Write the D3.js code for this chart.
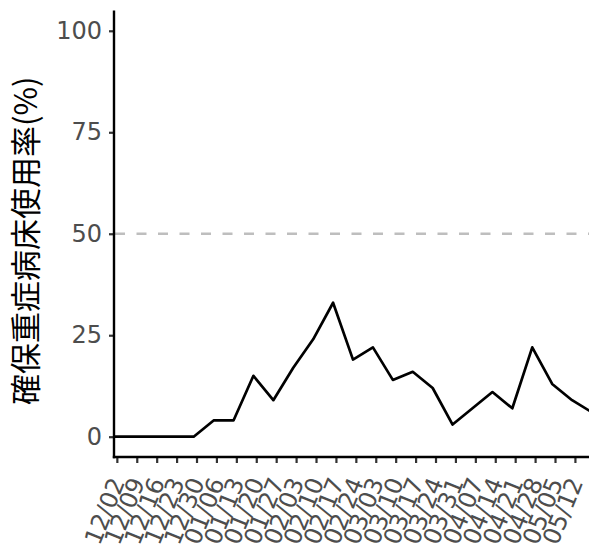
<!DOCTYPE html>
<html>
<head>
<meta charset="utf-8">
<script src="https://cdn.jsdelivr.net/npm/d3@7"></script>
<style>
  html, body { margin: 0; padding: 0; background: #fff; }
  svg { display: block; }
</style>
</head>
<body>
<svg id="chart" width="589" height="548"></svg>
<script>
// ---- data ----
const dates = ["2020-12-01","2020-12-08","2020-12-15","2020-12-22","2020-12-29",
  "2021-01-05","2021-01-12","2021-01-19","2021-01-26","2021-02-02","2021-02-09",
  "2021-02-16","2021-02-23","2021-03-02","2021-03-09","2021-03-16","2021-03-23",
  "2021-03-30","2021-04-06","2021-04-13","2021-04-20","2021-04-27","2021-05-04",
  "2021-05-11","2021-05-18"];
const values = [0,0,0,0,0,4,4,15,9,17,24,33,19,22,14,16,12,3,7,11,7,22,13,9,6];
const tickDates = ["2020-12-02","2020-12-09","2020-12-16","2020-12-23","2020-12-30",
  "2021-01-06","2021-01-13","2021-01-20","2021-01-27","2021-02-03","2021-02-10",
  "2021-02-17","2021-02-24","2021-03-03","2021-03-10","2021-03-17","2021-03-24",
  "2021-03-31","2021-04-07","2021-04-14","2021-04-21","2021-04-28","2021-05-05",
  "2021-05-12"];
const yTicks = [0, 25, 50, 75, 100];
const refLine = 50;
const yTitle = "確保重症病床使用率(%)";

// ---- chart ----
const parse = d3.timeParse("%Y-%m-%d");
const fmt = d3.timeFormat("%m/%d");
const data = dates.map((d, i) => ({ date: parse(d), value: values[i] }));

const svg = d3.select("#chart");
const left = 114, bottom = 457;

const x = d3.scaleTime()
  .domain([parse("2020-12-01"), parse("2021-05-18")])
  .range([left, 592]);
const y = d3.scaleLinear().domain([-5, 105]).range([bottom, 10.5]);

const font = "'DejaVu Sans', 'Noto Sans CJK JP', sans-serif";

// reference dashed line
svg.append("line")
  .attr("x1", left + 1).attr("x2", 600)
  .attr("y1", y(refLine)).attr("y2", y(refLine))
  .attr("stroke", "#BEBEBE").attr("stroke-width", 2.3)
  .attr("stroke-dasharray", "10,11.5");

// data line
svg.append("path")
  .datum(data)
  .attr("fill", "none")
  .attr("stroke", "#000")
  .attr("stroke-width", 2.7)
  .attr("stroke-linejoin", "round")
  .attr("d", d3.line().x(d => x(d.date)).y(d => y(d.value)));

// y axis
const yAxis = svg.append("g")
  .attr("transform", `translate(${left},0)`)
  .call(d3.axisLeft(y).tickValues(yTicks).tickSize(5).tickPadding(7));
yAxis.select(".domain").remove();
yAxis.selectAll(".tick line").attr("stroke", "#333").attr("stroke-width", 2.2);
yAxis.selectAll(".tick text")
  .attr("fill", "#4D4D4D")
  .style("font-family", font)
  .style("font-size", "24px");

// x axis
const xAxis = svg.append("g")
  .attr("transform", `translate(0,${bottom})`)
  .call(d3.axisBottom(x).tickValues(tickDates.map(parse)).tickFormat(fmt).tickSize(6).tickPadding(0));
xAxis.select(".domain").remove();
xAxis.selectAll(".tick line").attr("stroke", "#333").attr("stroke-width", 2.2);
xAxis.selectAll(".tick text")
  .attr("fill", "#4D4D4D")
  .style("font-family", font)
  .style("font-size", "24px")
  .attr("text-anchor", "end")
  .attr("y", 0).attr("dy", 0)
  .attr("transform", "translate(8,25) rotate(-68)");

// axis lines
svg.append("line")
  .attr("x1", left).attr("x2", left).attr("y1", 10.5).attr("y2", bottom + 1.2)
  .attr("stroke", "#000").attr("stroke-width", 2.4);
svg.append("line")
  .attr("x1", left - 1.2).attr("x2", 600).attr("y1", bottom).attr("y2", bottom)
  .attr("stroke", "#000").attr("stroke-width", 2.4);

// y title
svg.append("text")
  .attr("transform", `translate(37,${(10.5 + bottom) / 2 + 7}) rotate(-90)`)
  .attr("text-anchor", "middle")
  .style("font-family", "'Noto Sans CJK JP', sans-serif")
  .style("font-size", "31px")
  .attr("fill", "#000")
  .text(yTitle);
</script>
</body>
</html>
